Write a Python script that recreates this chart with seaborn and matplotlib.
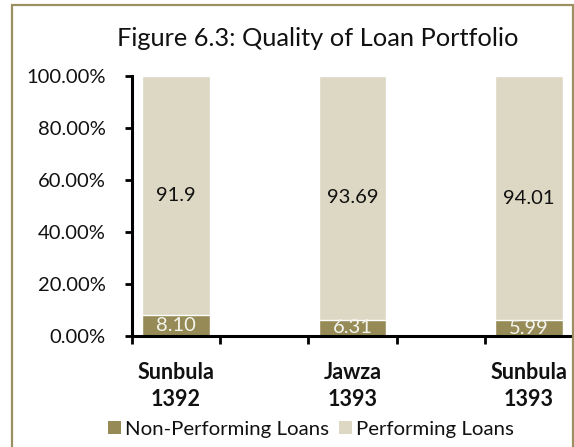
import matplotlib
matplotlib.use("Agg")
import matplotlib.pyplot as plt
from matplotlib.patches import Patch, Rectangle
from matplotlib.ticker import FixedLocator, FuncFormatter
import numpy as np
import pandas as pd
import seaborn as sns

# Loan quality by period (percent of total loans)
periods = ["Sunbula\n1392", "Jawza\n1393", "Sunbula\n1393"]
non_performing = [8.10, 6.31, 5.99]
performing = [91.9, 93.69, 94.01]
npl_labels = ["8.10", "6.31", "5.99"]
pl_labels = ["91.9", "93.69", "94.01"]
y_ticks = [0, 20, 40, 60, 80, 100]

# Empty slots between the periods keep the wide category spacing
order = [periods[0], " ", periods[1], "  ", periods[2]]

NPL_COLOR = "#968b56"
PL_COLOR = "#ddd8c3"
FRAME_COLOR = "#9a9062"

sns.set_theme(style="white")
plt.rcParams["font.family"] = ["Lato", "DejaVu Sans"]

df = pd.DataFrame({
    "period": periods,
    "npl": non_performing,
    "pl": performing,
})
df["total"] = df["npl"] + df["pl"]

fig = plt.figure(figsize=(5.74, 4.47), dpi=100)
ax = fig.add_axes([132 / 574, 1 - 336 / 447, (573 - 132) / 574, (336 - 76) / 447])

# Stacked bars: full stack in the light colour, NPL drawn over its base
sns.barplot(data=df, x="period", y="total", order=order, color=PL_COLOR,
            saturation=1, width=0.77, edgecolor="white", linewidth=1.0,
            ax=ax, zorder=1)
sns.barplot(data=df, x="period", y="npl", order=order, color=NPL_COLOR,
            saturation=1, width=0.77, edgecolor="white", linewidth=1.0,
            ax=ax, zorder=1)

positions = [order.index(p) for p in periods]
for xpos, npl, pl, nl, pll in zip(positions, non_performing, performing,
                                  npl_labels, pl_labels):
    ax.text(xpos, npl / 2, nl, ha="center", va="center", fontsize=14.5,
            color="#f4f4ee", zorder=2.4)
    ax.text(xpos, npl + pl / 2, pll, ha="center", va="center",
            fontsize=14.5, color="#111111", zorder=2.4)

ax.set_ylim(0, 100)
ax.set_xlim(-0.5, len(order) - 0.5)
ax.set_xlabel("")
ax.set_ylabel("")

ax.set_yticks(y_ticks)
ax.yaxis.set_major_formatter(FuncFormatter(lambda v, _: f"{v:.2f}%"))
ax.tick_params(axis="y", which="major", direction="out", length=5, width=2,
               color="black", labelsize=14.5, pad=14, labelcolor="#111111",
               left=True)

# Tick marks sit between category slots, labels sit under the bars
ax.xaxis.set_major_locator(FixedLocator(np.arange(-0.5, len(order), 1.0)))
ax.xaxis.set_minor_locator(FixedLocator(positions))
ax.xaxis.set_major_formatter(FuncFormatter(lambda v, _: ""))
ax.xaxis.set_minor_formatter(FuncFormatter(
    lambda v, _: periods[positions.index(int(round(v)))]))
ax.tick_params(axis="x", which="major", direction="out", length=6, width=2,
               color="black", bottom=True)
ax.tick_params(axis="x", which="minor", length=0, pad=19, labelsize=15.5,
               labelcolor="#111111")
for lab in ax.xaxis.get_minorticklabels():
    lab.set_fontweight("bold")
    lab.set_linespacing(1.35)

for side in ["top", "right"]:
    ax.spines[side].set_visible(False)
for side in ["left", "bottom"]:
    ax.spines[side].set_color("black")
    ax.spines[side].set_linewidth(2.2)

fig.text(318 / 574, 1 - 38 / 447, "Figure 6.3: Quality of Loan Portfolio",
         ha="center", va="center", fontsize=18.3, color="#111111")

handles = [Patch(facecolor=NPL_COLOR, edgecolor="none"),
           Patch(facecolor=PL_COLOR, edgecolor="none")]
fig.legend(handles, ["Non-Performing Loans", "Performing Loans"],
           loc="center", bbox_to_anchor=(311 / 574, 1 - 429 / 447), ncol=2,
           frameon=False, fontsize=14.7, handlelength=0.65, handleheight=0.65,
           handletextpad=0.2, columnspacing=0.45, borderpad=0,
           labelcolor="#111111")

# Outer frame around the chart area
fig.patches.append(Rectangle((11.5 / 574, -0.05), (573 - 11.5) / 574,
                             1.05 - 5 / 447, transform=fig.transFigure,
                             fill=False, edgecolor=FRAME_COLOR, linewidth=1.6))

fig.savefig("out.png", dpi=100)
